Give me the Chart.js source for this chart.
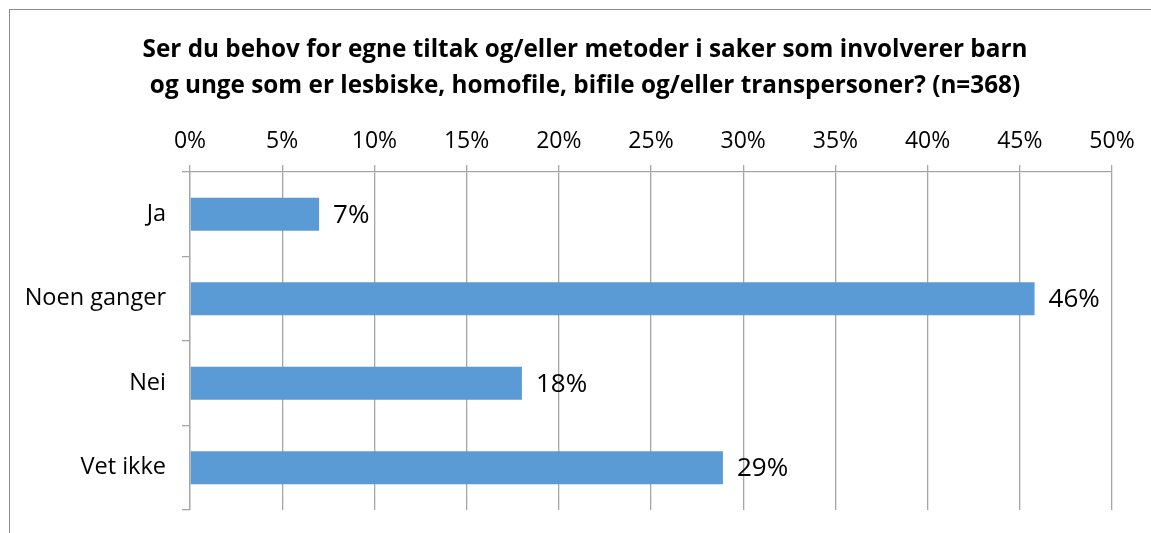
<!DOCTYPE html>
<html>
<head>
<meta charset="utf-8">
<script src="https://cdn.jsdelivr.net/npm/chart.js@4.4.0/dist/chart.umd.min.js"></script>
<style>
  html, body { margin: 0; padding: 0; background: #fff; overflow: hidden; }
  #frame { position: absolute; left: 9px; top: 9px; width: 1200px; height: 600px; border: 1px solid #8c8c8c; }
  #wrap { position: absolute; left: 0; top: 0; width: 1151px; height: 533px; }
</style>
</head>
<body>
<div id="frame"></div>
<div id="wrap"><canvas id="chart"></canvas></div>
<script>
// data
const categories = ['Ja', 'Noen ganger', 'Nei', 'Vet ikke'];
const values = [7.0, 45.8, 18.0, 28.9];
const valueLabels = ['7%', '46%', '18%', '29%'];
const titleLines = [
    'Ser du behov for egne tiltak og/eller metoder i saker som involverer barn',
    'og unge som er lesbiske, homofile, bifile og/eller transpersoner? (n=368)'
];

const FONT = "'Open Sans', 'Liberation Sans', sans-serif";
const gridColor = '#a6a6a6';

// title drawn centred over the frame
const titlePlugin = {
    id: 'titleLines',
    afterDraw(chart) {
        const ctx = chart.ctx;
        ctx.save();
        ctx.font = 'bold 24.3px ' + FONT;
        ctx.fillStyle = '#000';
        ctx.textAlign = 'center';
        ctx.textBaseline = 'middle';
        ctx.fillText(titleLines[0], 585, 50);
        ctx.fillText(titleLines[1], 585, 86);
        ctx.restore();
    }
};

// value labels at the end of each bar
const valueLabelPlugin = {
    id: 'valueLabels',
    afterDatasetsDraw(chart) {
        const ctx = chart.ctx;
        const meta = chart.getDatasetMeta(0);
        ctx.save();
        ctx.font = '26px ' + FONT;
        ctx.fillStyle = '#000';
        ctx.textAlign = 'left';
        ctx.textBaseline = 'middle';
        meta.data.forEach((bar, i) => {
            ctx.fillText(valueLabels[i], bar.x + 14, bar.y + 1);
        });
        ctx.restore();
    }
};

new Chart(document.getElementById('chart').getContext('2d'), {
    type: 'bar',
    data: {
        labels: categories,
        datasets: [{
            data: values,
            backgroundColor: '#5b9bd5',
            barPercentage: 0.39,
            categoryPercentage: 1.0
        }]
    },
    options: {
        indexAxis: 'y',
        responsive: true,
        maintainAspectRatio: false,
        animation: false,
        layout: { padding: { left: 0, top: 0, right: 39, bottom: 23 } },
        plugins: { legend: { display: false }, tooltip: { enabled: false }, title: { display: false } },
        scales: {
            x: {
                position: 'top',
                min: 0,
                max: 50,
                afterFit: s => { s.height = 172; },
                ticks: {
                    stepSize: 5,
                    padding: 10,
                    color: '#000',
                    font: { family: FONT, size: 23 },
                    callback: v => v + '%'
                },
                grid: { color: gridColor, lineWidth: 1.3, tickLength: 7 },
                border: { color: gridColor, width: 1.3 }
            },
            y: {
                afterFit: s => { s.width = 190; s.paddingTop = 0; s.paddingBottom = 0; },
                ticks: {
                    padding: 16,
                    color: '#000',
                    font: { family: FONT, size: 23.5 }
                },
                grid: { offset: true, drawOnChartArea: false, color: gridColor, lineWidth: 1.3, tickLength: 8 },
                border: { color: gridColor, width: 1.3 }
            }
        }
    },
    plugins: [titlePlugin, valueLabelPlugin]
});
</script>
</body>
</html>
